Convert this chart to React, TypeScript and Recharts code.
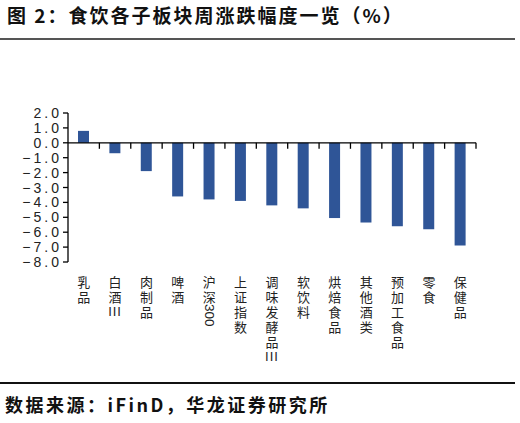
import { BarChart, Bar, XAxis, YAxis, ReferenceLine } from "recharts";

const categories = [
  "乳品",
  "白酒III",
  "肉制品",
  "啤酒",
  "沪深300",
  "上证指数",
  "调味发酵品III",
  "软饮料",
  "烘焙食品",
  "其他酒类",
  "预加工食品",
  "零食",
  "保健品",
];
const weeklyChange = [0.8, -0.7, -1.9, -3.6, -3.8, -3.9, -4.2, -4.4, -5.05, -5.35, -5.6, -5.8, -6.9];
const yTicks = [2, 1, 0, -1, -2, -3, -4, -5, -6, -7, -8];

const data = categories.map((name, i) => ({ name, value: weeklyChange[i] }));

const CJK = '"Noto Sans CJK SC", "DejaVu Sans", sans-serif';
const LATIN = '"Liberation Sans", Arial, sans-serif';
const BAR_COLOR = "#2F5597";
const STEP = 15;

// split a label into stacked pieces: single CJK chars, "III" upright, digits rotated
function splitLabel(label: string) {
  const parts: { text: string; rotate: boolean }[] = [];
  const re = /(I+)|(\d+)|(.)/g;
  let m: RegExpExecArray | null;
  while ((m = re.exec(label))) {
    if (m[1]) parts.push({ text: m[1], rotate: false });
    else if (m[2]) parts.push({ text: m[2], rotate: true });
    else parts.push({ text: m[3], rotate: false });
  }
  return parts;
}

function VerticalTick(props: any) {
  const { x, y, payload } = props;
  const parts = splitLabel(payload.value);
  let cy = y + 11.5;
  const nodes: any[] = [];
  parts.forEach((p, i) => {
    if (p.rotate) {
      const len = p.text.length * 7.5;
      const c = cy + len / 2 + 0.5;
      nodes.push(
        <text
          key={i}
          x={x}
          y={c}
          textAnchor="middle"
          dominantBaseline="central"
          transform={`rotate(90 ${x} ${c})`}
          fontSize={13.5}
          fontFamily={LATIN}
          fill="#222"
        >
          {p.text}
        </text>
      );
      cy += len + 1;
    } else {
      const roman = p.text.startsWith("I");
      const c = cy + STEP / 2;
      nodes.push(
        <text
          key={i}
          x={x}
          y={c}
          textAnchor="middle"
          dominantBaseline="central"
          fontSize={13}
          letterSpacing={roman ? 1 : 0}
          fontFamily={roman ? LATIN : CJK}
          fill="#222"
        >
          {p.text}
        </text>
      );
      cy += STEP;
    }
  });
  return <g>{nodes}</g>;
}

function ValueTick(props: any) {
  const { x, y, payload } = props;
  const v = payload.value as number;
  const s = (v < 0 ? "\u2212" : "") + Math.abs(v).toFixed(1);
  return (
    <text
      x={x - 1}
      y={y}
      textAnchor="end"
      dominantBaseline="central"
      fontSize={14}
      letterSpacing={3}
      fontFamily={LATIN}
      fill="#222"
    >
      {s}
    </text>
  );
}

// zero line with downward tick marks at category boundaries
function ZeroAxis(props: any) {
  const { x1, y1, x2, y2 } = props;
  const n = categories.length;
  const band = (x2 - x1) / n;
  const marks = [];
  for (let i = 1; i <= n; i++) {
    const tx = x1 + band * i;
    marks.push(<line key={i} x1={tx} y1={y1} x2={tx} y2={y1 + 6} stroke="#000" strokeWidth={1.3} />);
  }
  return (
    <g>
      <line x1={x1} y1={y1} x2={x2} y2={y2} stroke="#000" strokeWidth={1.3} />
      {marks}
    </g>
  );
}

export default function App() {
  return (
    <div style={{ position: "absolute", left: 0, top: 0, width: 520, height: 423, background: "#fff" }}>
      <div
        style={{
          position: "absolute",
          left: 7,
          top: 3,
          fontFamily: CJK,
          fontWeight: 700,
          fontSize: 19,
          letterSpacing: 2,
          lineHeight: "24px",
          color: "#111",
          whiteSpace: "nowrap",
        }}
      >
        图 2：食饮各子板块周涨跌幅度一览（%）
      </div>
      <div style={{ position: "absolute", left: 0, top: 38, width: 515, height: 2, background: "#555" }} />
      <div style={{ position: "absolute", left: 0, top: 0 }}>
        <BarChart
          width={520}
          height={423}
          data={data}
          margin={{ top: 113, right: 44, bottom: 131, left: 28 }}
        >
          <XAxis
            dataKey="name"
            height={30}
            interval={0}
            axisLine={false}
            tickLine={false}
            tickSize={0}
            tickMargin={0}
            tick={<VerticalTick />}
          />
          <YAxis
            width={40}
            domain={[-8, 2]}
            ticks={yTicks}
            interval={0}
            axisLine={{ stroke: "#000", strokeWidth: 1.3 }}
            tickLine={{ stroke: "#000", strokeWidth: 1.3 }}
            tickSize={5}
            tickMargin={0}
            tick={<ValueTick />}
          />
          <Bar dataKey="value" fill={BAR_COLOR} barSize={11} isAnimationActive={false} />
          <ReferenceLine y={0} shape={<ZeroAxis />} />
        </BarChart>
      </div>
      <div style={{ position: "absolute", left: 0, top: 382, width: 515, height: 1.5, background: "#111" }} />
      <div
        style={{
          position: "absolute",
          left: 5,
          top: 392,
          fontFamily: CJK,
          fontWeight: 700,
          fontSize: 18,
          letterSpacing: 2.5,
          lineHeight: "24px",
          color: "#111",
          whiteSpace: "nowrap",
        }}
      >
        数据来源：iFinD，华龙证券研究所
      </div>
    </div>
  );
}
